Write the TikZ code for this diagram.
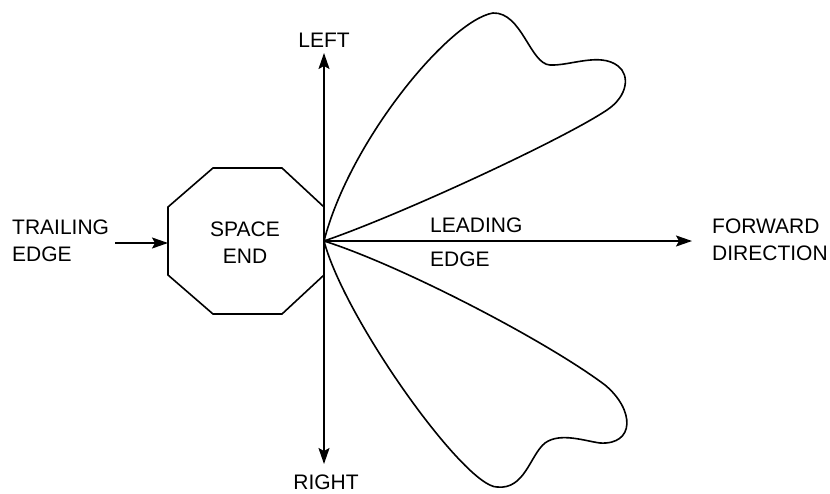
\documentclass[tikz,border=0pt]{standalone}
\usepackage{fontspec}
\setmainfont{Liberation Sans}
\usetikzlibrary{arrows.meta}
\begin{document}
\begin{tikzpicture}[x=1pt,y=-1pt,
  lbl/.style={inner sep=0pt,align=left,font=\fontsize{21}{27}\selectfont},
  clbl/.style={inner sep=0pt,align=center,font=\fontsize{21}{27}\selectfont},
  thick line/.style={line width=1.6pt},
  arr/.style={thick line,-{Stealth[length=16pt,width=11pt,inset=3pt]}},
  lobe/.style={line width=1.6pt,line join=round}]
\useasboundingbox (0,0) rectangle (830,493);
% coordinates
\coordinate (O) at (324,241);
\coordinate (up) at (324,53);
\coordinate (down) at (324,464);
\coordinate (fwd) at (692,241);
\coordinate (tstart) at (115,243);
\coordinate (octW) at (168,243);
% octagon
\draw[thick line,line join=miter] (213,168) -- (282,168) -- (324,207) -- (324,275) -- (282,314) -- (213,314) -- (168,275) -- (168,207) -- cycle;
% upper lobe
\draw[lobe] (O) .. controls (350,140) and (450,20) .. (493,13)
  .. controls (522,12) and (530,64) .. (550,65)
  .. controls (570,66) and (600,52) .. (618,66)
  .. controls (630,75) and (628,96) .. (607,110)
  .. controls (562,140) and (400,215) .. (O);
% lower lobe
\draw[lobe] (O) .. controls (400,265) and (545,340) .. (605,385)
  .. controls (635,410) and (635,445) .. (600,443)
  .. controls (585,441) and (560,432) .. (545,443)
  .. controls (530,455) and (525,490) .. (497,487)
  .. controls (465,487) and (345,320) .. (O);
% arrows
\draw[arr] (O) -- (up);
\draw[arr] (O) -- (down);
\draw[arr] (O) -- (fwd);
\draw[arr] (tstart) -- (octW);
% labels
\node[clbl] (left) at (324,40) {LEFT};
\node[clbl] (right) at (326,482) {RIGHT};
\node[clbl] (space) at (245,243) {SPACE\\END};
\node[lbl,anchor=west] (trail) at (12,241) {TRAILING\\EDGE};
\node[lbl,anchor=west] (lead) at (430,242) {LEADING\\[7pt]EDGE};
\node[lbl,anchor=west] (fwdl) at (712,240) {FORWARD\\DIRECTION};
\end{tikzpicture}
\end{document}
